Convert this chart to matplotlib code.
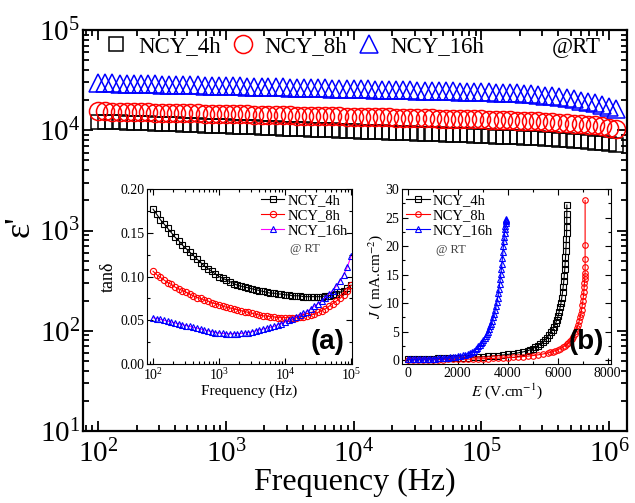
from matplotlib import pyplot as plt
import numpy as np

# frequency sweep (Hz)
freq = [100, 114, 129, 147, 167, 190, 215, 245, 278, 316, 359, 408, 464, 527, 599, 681, 774, 880,
        1000, 1140, 1290, 1470, 1670, 1900, 2150, 2450, 2780, 3160, 3590, 4080, 4640, 5270, 5990, 6810, 7740, 8800,
        10000, 11400, 12900, 14700, 16700, 19000, 21500, 24500, 27800, 31600, 35900, 40800, 46400, 52700, 59900, 68100, 77400, 88000,
        100000, 114000, 129000, 147000, 167000, 190000, 215000, 245000, 278000, 316000, 359000, 408000, 464000, 527000, 599000, 681000, 774000, 880000,
        1000000, 1140000]

eps_4h = [12210, 12130, 12060, 11990, 11910, 11840, 11770, 11690, 11630, 11550, 11480, 11420, 11340, 11280, 11210, 11130, 11070, 11000,
          10930, 10870, 10800, 10740, 10670, 10600, 10540, 10470, 10410, 10340, 10270, 10220, 10150, 10090, 10030, 9970, 9900, 9850,
          9780, 9720, 9660, 9600, 9550, 9480, 9430, 9370, 9310, 9250, 9200, 9140, 9090, 9030, 8980, 8920, 8870, 8810,
          8760, 8700, 8650, 8590, 8540, 8480, 8420, 8350, 8280, 8210, 8130, 8050, 7960, 7880, 7780, 7670, 7550, 7410,
          7270, 7100]
eps_8h = [15460, 15400, 15340, 15300, 15240, 15190, 15140, 15090, 15030, 14990, 14930, 14880, 14830, 14780, 14730, 14680, 14630, 14570,
          14530, 14470, 14430, 14380, 14320, 14280, 14220, 14180, 14130, 14080, 14030, 13990, 13930, 13890, 13840, 13790, 13740, 13700,
          13650, 13600, 13550, 13510, 13460, 13420, 13360, 13320, 13270, 13230, 13180, 13140, 13090, 13050, 13000, 12960, 12900, 12860,
          12810, 12760, 12700, 12640, 12580, 12510, 12430, 12340, 12250, 12150, 12050, 11940, 11820, 11680, 11540, 11370, 11180, 10960,
          10580, 10190]
eps_16h = [29500, 29400, 29300, 29200, 29100, 29000, 28900, 28800, 28700, 28500, 28400, 28300, 28200, 28100, 28000, 27900, 27800, 27700,
           27600, 27500, 27400, 27300, 27200, 27100, 27000, 26900, 26800, 26700, 26600, 26500, 26400, 26300, 26200, 26100, 26000, 25900,
           25800, 25700, 25600, 25500, 25400, 25300, 25200, 25100, 25000, 24900, 24800, 24700, 24600, 24500, 24400, 24300, 24200, 24100,
           24000, 23900, 23750, 23600, 23450, 23300, 23100, 22800, 22500, 22200, 21800, 21400, 20900, 20400, 19800, 19200, 18500, 17800,
           17000, 16200]

# inset (a): tan delta, 100 Hz - 100 kHz
freq_a = freq[:55]
tan_4h = [.177, .171, .165, .160, .155, .150, .145, .141, .136, .132, .128, .124, .120, .116, .112, .109, .106, .103,
          .100, .098, .096, .094, .092, .090, .089, .088, .087, .086, .085, .084, .083, .082, .081, .081, .080, .080,
          .079, .079, .078, .078, .078, .077, .077, .077, .077, .077, .077, .078, .078, .079, .080, .082, .084, .087, .090]
tan_8h = [.106, .102, .099, .096, .093, .091, .088, .086, .084, .082, .080, .078, .076, .075, .073, .072, .070, .069,
          .068, .066, .065, .064, .063, .062, .061, .060, .059, .058, .057, .056, .055, .055, .054, .054, .053, .053,
          .053, .053, .053, .053, .054, .054, .055, .056, .057, .059, .061, .063, .066, .069, .072, .075, .079, .084, .090]
tan_16h = [.053, .052, .051, .050, .049, .048, .047, .046, .045, .044, .043, .042, .041, .040, .039, .038, .037, .036,
           .0355, .035, .0348, .0347, .0347, .0348, .035, .0355, .036, .037, .038, .039, .040, .041, .042, .043, .045, .046,
           .048, .050, .052, .054, .056, .058, .060, .063, .066, .069, .072, .076, .080, .084, .089, .095, .102, .111, .123]

# inset (b): J-E
E_16h = [0, 100, 200, 300, 400, 500, 600, 700, 800, 900, 1000, 1100, 1200, 1300, 1400, 1500, 1600, 1700, 1800, 1900,
         2000, 2100, 2200, 2300, 2400, 2480, 2560, 2640, 2720, 2780, 2830, 2880, 2930, 2980, 3030, 3080, 3130, 3180, 3230,
         3270, 3310, 3350, 3390, 3430, 3470, 3505, 3540, 3570, 3600, 3630, 3655, 3680, 3705, 3728, 3750, 3770, 3790,
         3810, 3830, 3845, 3860, 3875, 3890, 3903, 3915, 3925, 3935, 3945]
J_16h = [0.10, 0.11, 0.12, 0.13, 0.14, 0.15, 0.16, 0.17, 0.19, 0.21, 0.23, 0.25, 0.28, 0.31, 0.34, 0.38, 0.42, 0.47, 0.52, 0.58,
         0.65, 0.73, 0.83, 0.95, 1.10, 1.25, 1.42, 1.62, 1.90, 2.15, 2.45, 2.70, 2.95, 3.20, 3.50, 3.85, 4.20, 4.60, 5.00,
         5.45, 5.90, 6.40, 6.90, 7.50, 8.15, 8.80, 9.50, 10.15, 10.90, 11.70, 12.50, 13.35, 14.25, 15.10, 16.00, 16.90, 17.90,
         18.90, 20.00, 20.80, 21.60, 22.30, 23.00, 23.60, 24.10, 24.40, 24.60, 24.75]

E_4h = [0, 200, 400, 600, 800, 1000, 1200, 1400, 1600, 1800, 2000, 2200, 2400, 2600, 2800, 3000, 3200, 3400, 3600, 3800,
        4000, 4200, 4400, 4600, 4800, 4900, 5000, 5100, 5200, 5300, 5400, 5500, 5580, 5660, 5740, 5800, 5860, 5920, 5970,
        6020, 6060, 6100, 6135, 6165, 6195, 6220, 6245, 6265, 6285, 6300, 6315, 6328, 6340, 6350, 6358, 6363, 6366, 6368, 6370]
J_4h = [0.15, 0.17, 0.19, 0.21, 0.23, 0.25, 0.27, 0.29, 0.31, 0.34, 0.37, 0.40, 0.44, 0.48, 0.53, 0.58, 0.64, 0.71, 0.79, 0.88,
        0.98, 1.10, 1.24, 1.41, 1.62, 1.80, 2.00, 2.25, 2.50, 2.80, 3.15, 3.55, 3.95, 4.40, 4.90, 5.35, 5.85, 6.45, 7.05,
        7.75, 8.45, 9.25, 10.05, 10.90, 11.85, 12.80, 13.80, 14.80, 15.90, 16.90, 18.00, 19.10, 20.20, 21.20, 22.20, 23.30, 24.50, 25.70, 27.20]

E_8h = [0, 200, 400, 600, 800, 1000, 1200, 1400, 1600, 1800, 2000, 2200, 2400, 2600, 2800, 3000, 3200, 3400, 3600, 3800,
        4000, 4200, 4400, 4600, 4800, 5000, 5200, 5400, 5600, 5700, 5800, 5900, 6000, 6100, 6200, 6280, 6360, 6430, 6500,
        6560, 6620, 6680, 6730, 6780, 6820, 6860, 6900, 6930, 6960, 6985, 7010, 7030, 7048, 7062, 7074, 7084, 7092, 7098,
        7100, 7100, 7100, 7100]
J_8h = [0.02, 0.03, 0.04, 0.05, 0.06, 0.07, 0.08, 0.09, 0.10, 0.11, 0.12, 0.14, 0.16, 0.18, 0.20, 0.23, 0.26, 0.29, 0.33, 0.37,
        0.42, 0.47, 0.53, 0.60, 0.68, 0.78, 0.90, 1.05, 1.23, 1.34, 1.47, 1.62, 1.80, 2.00, 2.24, 2.47, 2.74, 3.03, 3.37,
        3.72, 4.12, 4.60, 5.10, 5.65, 6.20, 6.80, 7.50, 8.15, 8.85, 9.60, 10.40, 11.20, 12.00, 12.80, 13.60, 14.20, 14.70, 15.30,
        16.40, 17.80, 20.10, 28.00]

plt.rcParams['font.family'] = 'Liberation Serif'
plt.rcParams['mathtext.fontset'] = 'stix'

fig = plt.figure(figsize=(6.35, 5.03), dpi=100)
ax = fig.add_axes([0.1307, 0.1431, 0.8567, 0.7972])

ax.plot(freq, eps_4h, 's', ms=10.5, mfc='none', mec='black', mew=1.1, label='NCY_4h')
ax.plot(freq, eps_8h, 'o', ms=13, mfc='none', mec='red', mew=1.1, label='NCY_8h')
ax.plot(freq, eps_16h, '^', ms=13, mfc='none', mec='blue', mew=1.1, label='NCY_16h')
ax.set_xscale('log')
ax.set_yscale('log')
ax.set_xlim(76, 1.38e6)
ax.set_ylim(10, 1e5)
ax.set_xlabel('Frequency (Hz)', fontsize=23, labelpad=0)
ax.set_ylabel("ε'", fontsize=26)
ax.yaxis.set_label_coords(-0.085, 0.51)
ax.tick_params(which='both', direction='in', top=True, right=True, labelsize=21, width=1.3)
ax.tick_params(axis='x', which='major', pad=6)
ax.tick_params(axis='y', which='major', pad=2)
ax.tick_params(which='major', length=7)
ax.tick_params(which='minor', length=4)
for s in ax.spines.values():
    s.set_linewidth(1.6)
ax.legend(loc='center left', bbox_to_anchor=(0.04, 0.96), ncol=3, frameon=False, fontsize=16.5,
          handlelength=1.0, handletextpad=0.45, columnspacing=0.45, borderpad=0, borderaxespad=0)
ax.text(0.952, 0.96, '@RT', transform=ax.transAxes, fontsize=16.5, ha='right', va='center')

# inset (a)
axa = fig.add_axes([0.2315, 0.2763, 0.3228, 0.3479])
axa.plot(freq_a, tan_4h, '-s', color='black', ms=4.5, mfc='none', mew=0.8, lw=0.8, label='NCY_4h')
axa.plot(freq_a, tan_8h, '-o', color='red', ms=4.5, mfc='none', mew=0.8, lw=0.8, label='NCY_8h')
axa.plot(freq_a, tan_16h, '-^', color='magenta', ms=4.5, mfc='none', mec='blue', mew=0.8, lw=0.8, label='NCY_16h')
axa.set_xscale('log')
axa.set_xlim(81, 1.035e5)
axa.set_ylim(0, 0.2)
axa.set_yticks([0, 0.05, 0.10, 0.15, 0.20])
axa.set_yticklabels(['0.00', '0.05', '0.10', '0.15', '0.20'])
axa.set_yticks(np.arange(0.025, 0.2, 0.05), minor=True)
axa.set_xlabel('Frequency (Hz)', fontsize=11, labelpad=1)
axa.set_ylabel('tanδ', fontsize=13, labelpad=2)
axa.tick_params(which='both', direction='in', top=True, right=True, labelsize=10, width=0.8, pad=2)
axa.tick_params(which='major', length=4)
axa.tick_params(which='minor', length=2)
axa.legend(loc='upper right', bbox_to_anchor=(1.0, 0.995), frameon=False, fontsize=10.5,
           handlelength=1.6, handletextpad=0.2, labelspacing=0.12, borderpad=0.3, borderaxespad=0)
axa.text(0.70, 0.655, '@ RT', transform=axa.transAxes, fontsize=9, color='#444444', va='center')
axa.text(0.965, 0.05, '(a)', transform=axa.transAxes, fontsize=20, fontweight='bold',
         family='Liberation Sans', ha='right', va='bottom')

# inset (b)
axb = fig.add_axes([0.6331, 0.2763, 0.3291, 0.3479])
axb.plot(E_4h, J_4h, '-s', color='black', ms=4, mfc='none', mew=0.8, lw=0.8, label='NCY_4h')
axb.plot(E_8h, J_8h, '-o', color='red', ms=4, mfc='none', mew=0.8, lw=0.8, label='NCY_8h')
axb.plot(E_16h, J_16h, '-^', color='blue', ms=4, mfc='none', mew=0.8, lw=0.8, label='NCY_16h')
axb.set_xlim(-228, 8136)
axb.set_ylim(-0.7, 30)
axb.set_xticks([0, 2000, 4000, 6000, 8000])
axb.set_xticks(np.arange(1000, 8000, 2000), minor=True)
axb.set_yticks(np.arange(0, 31, 5))
axb.set_yticks(np.arange(2.5, 30, 5), minor=True)
axb.set_xlabel('$E$ (V.cm$^{-1}$)', fontsize=11, labelpad=1)
axb.set_ylabel('$J$ ( mA.cm$^{-2}$)', fontsize=11, labelpad=0)
axb.tick_params(which='both', direction='in', top=True, right=True, labelsize=10, width=0.8, pad=2)
axb.tick_params(which='major', length=4)
axb.tick_params(which='minor', length=2)
axb.legend(loc='upper left', bbox_to_anchor=(0.0, 0.995), frameon=False, fontsize=10.5,
           handlelength=1.6, handletextpad=0.2, labelspacing=0.12, borderpad=0.3, borderaxespad=0)
axb.text(0.165, 0.65, '@ RT', transform=axb.transAxes, fontsize=9, color='#444444', va='center')
axb.text(0.965, 0.05, '(b)', transform=axb.transAxes, fontsize=20, fontweight='bold',
         family='Liberation Sans', ha='right', va='bottom')

plt.savefig('out.png', dpi=100)
